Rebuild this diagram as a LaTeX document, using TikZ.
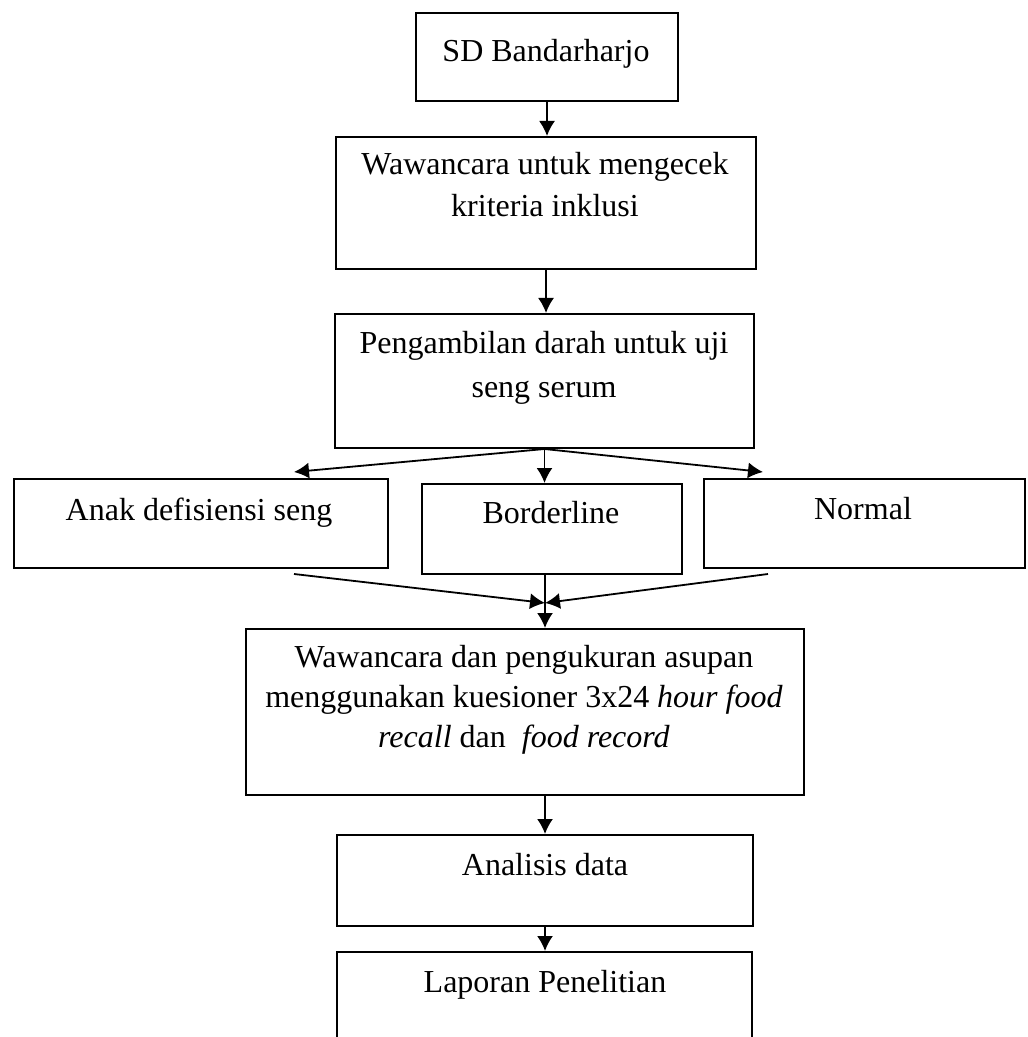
\documentclass[tikz,border=0pt]{standalone}
\usepackage{fontspec}
\setmainfont{Liberation Serif}
\usetikzlibrary{arrows.meta}

\begin{document}
\begin{tikzpicture}[x=0.5pt, y=-0.5pt,
  box/.style={draw=black, line width=1pt, anchor=north west, inner sep=0pt},
  txt/.style={anchor=base, align=center, inner sep=0pt, font=\fontsize{16}{21}\selectfont},
  arr/.style={-{Latex[length=7.5pt,width=8pt]}, line width=0.9pt}]

\clip (0,0) rectangle (1027,1037);

\node[box, minimum width=131pt, minimum height=44pt] at (415,12) (sd) {};
\node[txt] at (546,62) (sdtxt) {SD Bandarharjo};

\node[box, minimum width=210pt, minimum height=66pt] at (335,136) (cek) {};
\node[txt] at (545,217) (cektxt) {Wawancara untuk mengecek\\kriteria inklusi};

\node[box, minimum width=209.5pt, minimum height=67pt] at (334,313) (darah) {};
\node[txt, font=\fontsize{16}{22}\selectfont] at (544,397) (darahtxt) {Pengambilan darah untuk uji\\seng serum};

\node[box, minimum width=187pt, minimum height=44.5pt] at (13,478) (defisiensi) {};
\node[txt] at (199,520) (defisiensitxt) {Anak defisiensi seng};

\node[box, minimum width=130pt, minimum height=45pt] at (421,483) (border) {};
\node[txt] at (551,523) (bordertxt) {Borderline};

\node[box, minimum width=160.5pt, minimum height=44.5pt] at (703,478) (normal) {};
\node[txt] at (863,519) (normaltxt) {Normal};

\node[box, minimum width=279pt, minimum height=83pt] at (245,628) (asupan) {};
\node[txt, font=\fontsize{16}{20}\selectfont] at (524,747) (asupantxt)
  {Wawancara dan pengukuran asupan\\menggunakan kuesioner 3x24 \textit{hour food}\\\textit{recall} dan \ \textit{food record}};

\node[box, minimum width=208pt, minimum height=45.5pt] at (336,834) (analisis) {};
\node[txt] at (545,875) (analisistxt) {Analisis data};

\node[box, minimum width=207.5pt, minimum height=65pt] at (336,951) (laporan) {};
\node[txt] at (545,992) (laporantxt) {Laporan Penelitian};

% free ends of the slanted arrows
\coordinate (kiri) at (294,472);
\coordinate (kanan) at (763,472);
\coordinate (darikiri) at (294,574);
\coordinate (darikanan) at (768,574);
\coordinate (temu) at (545,603);

\draw[arr] (sd.south) -- (sd.south |- cek.north);
\draw[arr] (cek.south) -- (cek.south |- darah.north);
\draw[arr] (darah.south) -- (kiri);
\draw[arr] (darah.south) -- (kanan);
\draw[arr] (darah.south) -- (darah.south |- border.north);
\draw[arr] (darikiri) -- (temu);
\draw[arr] (darikanan) -- (temu);
\draw[arr] (border.south -| temu) -- (temu |- asupan.north);
\draw[arr] (asupan.south -| analisis.north) -- (analisis.north);
\draw[arr] (analisis.south) -- (analisis.south |- laporan.north);
\end{tikzpicture}
\end{document}
